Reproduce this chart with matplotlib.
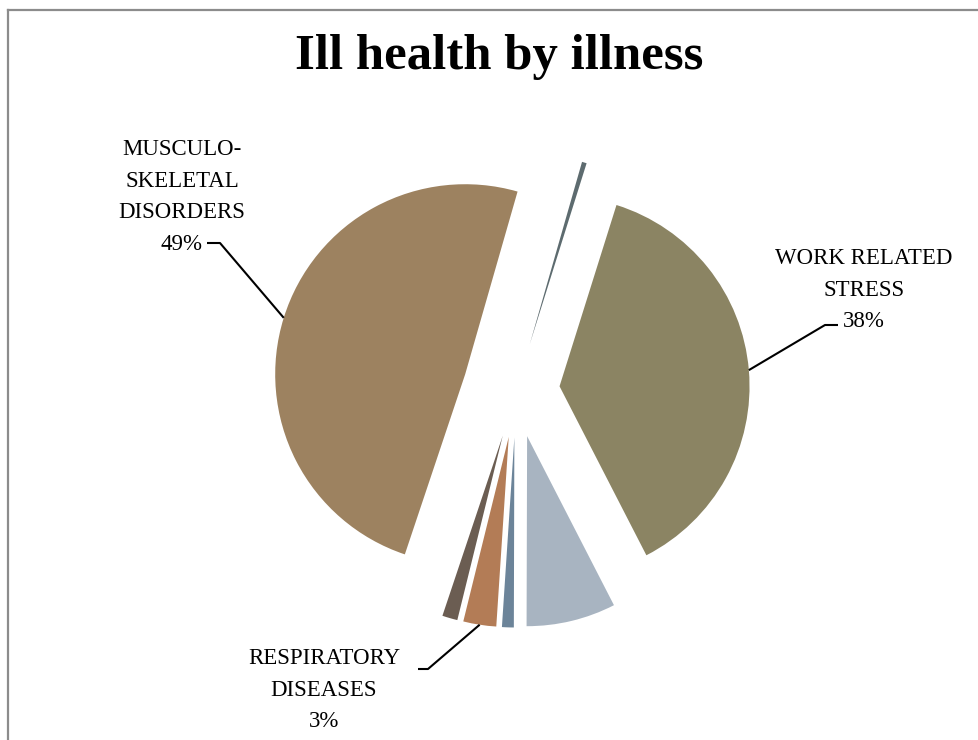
import matplotlib
matplotlib.use("Agg")
import matplotlib.pyplot as plt
import numpy as np

# ---- data (percent shares, clockwise from the top) ----
categories = ["OTHER", "WORK RELATED\nSTRESS", "OTHER ILLNESS", "HEARING LOSS",
              "RESPIRATORY\nDISEASES", "SKIN DISEASE", "MUSCULO-\nSKELETAL\nDISORDERS"]
values = [0.4, 37.6, 7.6, 1.0, 2.8, 1.3, 49.3]
show_label = [False, True, False, False, True, False, True]
colors = ["#5d6b6f", "#8b8463", "#a8b4c1", "#6c8499", "#b37c56", "#6b5d52", "#9d8260"]
explode_frac = [0.25, 0.23, 0.25, 0.25, 0.25, 0.25, 0.28]

W, H = 979, 740
fig = plt.figure(figsize=(W / 100, H / 100), dpi=100)
fig.patch.set_facecolor("white")
ax = fig.add_axes([0, 0, 1, 1])

R = 190
C = (516, 350)
wedges, _ = ax.pie(values, colors=colors, radius=R, center=C,
                   explode=[e * R for e in explode_frac],
                   startangle=74, counterclock=False,
                   wedgeprops=dict(linewidth=0), frame=False)
ax.set_xlim(0, W)
ax.set_ylim(0, H)
ax.axis("off")

serif = ["Liberation Serif", "DejaVu Serif"]

# title
ax.text(499, 683, "Ill health by illness", ha="center", va="center",
        fontsize=36.5, fontweight="bold", family=serif)

# label layout: (text x, text y, text-side end of leader, elbow)
layout = {
    6: ((182, 543), (207, 497), (220, 497)),
    1: ((864, 450), (838, 415), (825, 415)),
    4: ((324, 50), (418, 71), (428, 71)),
}
total = sum(values)
for i, (txy, tend, elbow) in layout.items():
    w = wedges[i]
    pct = round(values[i] / total * 100)
    ax.text(txy[0], txy[1], f"{categories[i]}\n{pct}%", ha="center", va="center",
            fontsize=16.5, family=serif, linespacing=1.68, color="black")
    tm = np.deg2rad((w.theta1 + w.theta2) / 2)
    ax_pt = (w.center[0] + w.r * np.cos(tm), w.center[1] + w.r * np.sin(tm))
    ax.plot([tend[0], elbow[0], ax_pt[0]], [tend[1], elbow[1], ax_pt[1]],
            color="black", lw=1.5, solid_capstyle="butt")

# chart-area border (left and top visible)
ax.plot([8, 8], [0, 730], color="#8c8c8c", lw=1.6, clip_on=False)
ax.plot([8, W], [730, 730], color="#8c8c8c", lw=1.6, clip_on=False)

fig.savefig("out.png", dpi=100)
